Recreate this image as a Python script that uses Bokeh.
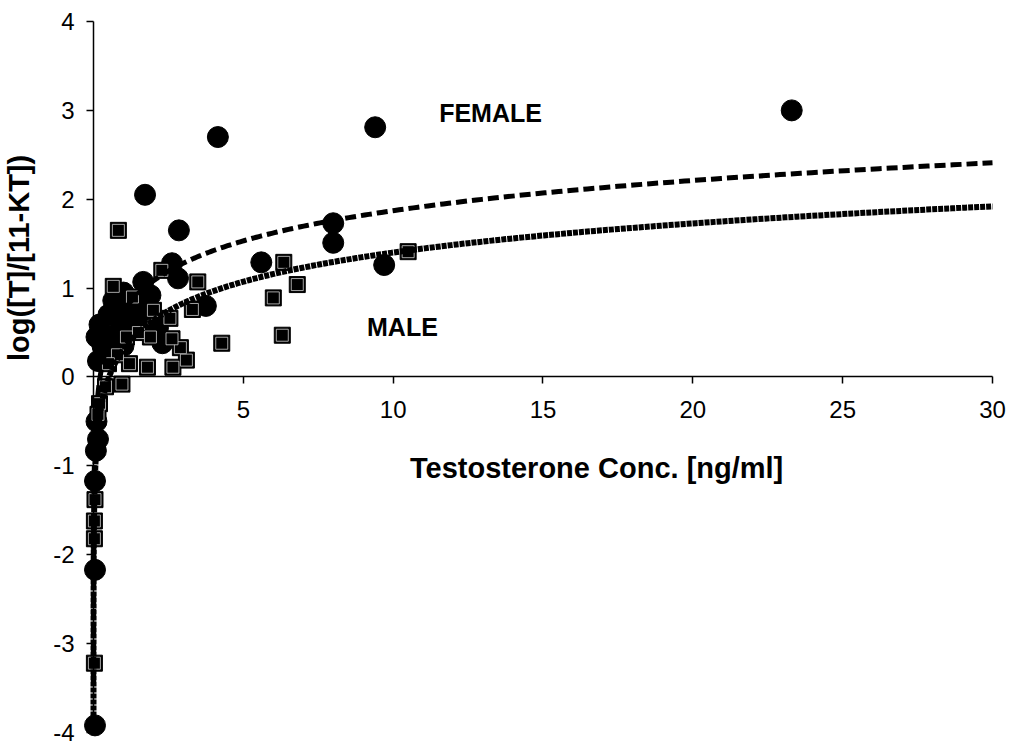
import numpy as np
from bokeh.plotting import figure
from bokeh.models import Range1d, FixedTicker, Label, PrintfTickFormatter
from bokeh.embed import file_html
from bokeh.resources import INLINE

# ---- data ----
female_x = [23.3, 9.4, 4.15, 1.72, 2.85, 8.0, 8.0, 9.7, 5.6, 2.62, 2.82, 1.66, 3.75,
            0.66, 0.2, 0.1, 0.15, 2.3, 1.9, 1.12, 0.9, 0.56, 1.45, 1.3, 2.15, 1.0, 0.4,
            0.8, 1.2, 1.7, 0.5, 1.0, 1.5, 0.3,
            0.1, 0.15, 0.08, 0.05, 0.05, 0.05]
female_y = [3.00, 2.81, 2.70, 2.05, 1.65, 1.73, 1.51, 1.26, 1.29, 1.28, 1.11, 1.07, 0.80,
            0.86, 0.59, 0.45, 0.18, 0.38, 0.92, 0.80, 0.56, 0.45, 0.60, 0.70, 0.55, 0.35, 0.25,
            0.70, 0.60, 0.75, 0.70, 0.95, 0.85, 0.35,
            -0.50, -0.70, -0.83, -1.17, -2.17, -3.92]

male_x = [0.83, 0.66, 3.48, 3.3, 2.55, 4.28, 1.8, 2.65, 3.1, 2.9, 2.62, 6.35, 6.8, 6.0,
          6.3, 10.5, 0.95, 0.4, 0.2, 0.15, 0.05, 0.03, 0.03, 0.03, 1.3, 1.5, 0.8, 1.1,
          2.0, 1.9, 0.5, 1.2, 2.28]
male_y = [1.65, 1.02, 1.07, 0.76, 0.66, 0.38, 0.11, 0.11, 0.19, 0.33, 0.43, 1.29, 1.04, 0.89,
          0.47, 1.41, -0.08, -0.11, -0.30, -0.42, -1.38, -1.62, -1.82, -3.22, 0.90, 0.50, 0.25, 0.45,
          0.75, 0.45, 0.15, 0.15, 1.20]

# logarithmic trend lines: y = a*ln(x) + b
female_fit = {"a": 0.49, "b": 0.743, "x_start": 1.9e-4, "x_end": 30.0}
male_fit = {"a": 0.473, "b": 0.311, "x_start": 1.4e-4, "x_end": 30.0}

x_ticks = [5, 10, 15, 20, 25, 30]
y_ticks = [-4, -3, -2, -1, 0, 1, 2, 3, 4]

x_title = "Testosterone Conc. [ng/ml]"
y_title = "log([T]/[11-KT])"
labels = {"FEMALE": (13.25, 2.97), "MALE": (10.31, 0.56)}

FONT = "Liberation Sans"

# the frame fills the whole canvas; axes sit at x=0 / y=0 inside it
p = figure(width=1010, height=747,
           x_range=Range1d(-3.1034, 30.6007), y_range=Range1d(-4.1688, 4.2363),
           output_backend="svg", toolbar_location=None,
           min_border_left=0, min_border_right=0, min_border_top=0, min_border_bottom=0)
p.grid.visible = False
p.outline_line_color = None
p.background_fill_color = "white"

for ax in (p.xaxis[0], p.yaxis[0]):
    ax.fixed_location = 0
    ax.formatter = PrintfTickFormatter(format="%d")
    ax.axis_line_color = "black"
    ax.axis_line_width = 1.5
    ax.major_tick_line_color = "black"
    ax.major_tick_line_width = 1.5
    ax.major_tick_out = 7
    ax.major_tick_in = 0
    ax.minor_tick_line_color = None
    ax.major_label_text_font = FONT
    ax.major_label_text_font_size = "24px"
    ax.major_label_text_color = "black"

p.xaxis.ticker = FixedTicker(ticks=x_ticks)
p.yaxis.ticker = FixedTicker(ticks=y_ticks)
p.xaxis.bounds = (0, 30)
p.yaxis.bounds = (-4, 4)
p.xaxis.major_label_standoff = 17
p.yaxis.major_label_standoff = 12

# points
p.scatter(female_x, female_y, marker="circle", size=21, fill_color="black", line_color="black")
p.scatter(male_x, male_y, marker="square", size=16, fill_color="black", line_color="black")
p.scatter(male_x, male_y, marker="square", size=12, fill_color="black", line_color="#cfcfcf", line_width=0.8)

# trend lines
fx = np.geomspace(female_fit["x_start"], female_fit["x_end"], 800)
fy = female_fit["a"] * np.log(fx) + female_fit["b"]
p.line(fx, fy, line_color="black", line_width=5, line_dash="11 5", line_cap="butt")

mx = np.geomspace(male_fit["x_start"], male_fit["x_end"], 800)
my = male_fit["a"] * np.log(mx) + male_fit["b"]
p.line(mx, my, line_color="black", line_width=6, line_dash="5 1", line_cap="butt")

for txt, (lx, ly) in labels.items():
    p.add_layout(Label(x=lx, y=ly, text=txt, text_align="center", text_baseline="middle",
                       text_font=FONT, text_font_style="bold", text_font_size="25px",
                       text_color="black"))

p.add_layout(Label(x=16.79, y=-1.02, text=x_title, text_align="center", text_baseline="middle",
                   text_font=FONT, text_font_style="bold", text_font_size="29px", text_color="black"))
p.add_layout(Label(x=-2.50, y=1.34, text=y_title, text_align="center", text_baseline="middle",
                   angle=np.pi / 2, text_font=FONT, text_font_style="bold", text_font_size="29px",
                   text_color="black"))

open("out.html", "w").write(file_html(p, INLINE))
